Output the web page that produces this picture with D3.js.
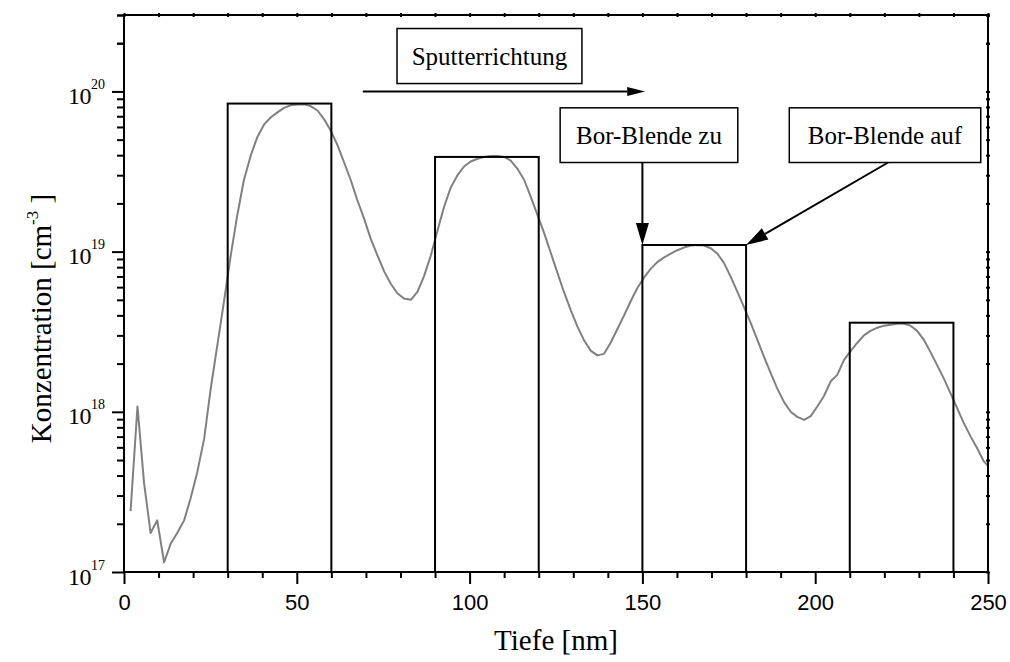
<!DOCTYPE html>
<html>
<head>
<meta charset="utf-8">
<script src="https://cdn.jsdelivr.net/npm/d3@7"></script>
<style>
  html, body { margin: 0; padding: 0; background: #fff; }
  svg { display: block; }
</style>
</head>
<body>
<svg id="chart" width="1010" height="662"></svg>
<script>
// Boron depth profile (SIMS) through four delta-doped layers
const depth = [1.9, 3.9, 5.8, 7.7, 9.6, 11.6, 13.5, 15.4, 17.4, 19.3, 21.2, 23.2, 25.1, 27.0, 29.0,
  30.9, 32.8, 34.7, 36.7, 38.6, 40.5, 42.5, 44.4, 46.3, 48.2, 50.2, 52.1, 54.0, 56.0, 57.9,
  59.8, 61.8, 63.7, 65.6, 67.5, 69.5, 71.4, 73.3, 75.3, 77.2, 79.1, 81.0, 83.0, 84.9, 86.8,
  88.8, 90.7, 92.6, 94.5, 96.5, 98.4, 100.3, 102.3, 104.2, 106.1, 108.1, 110.0, 111.9, 113.8,
  115.8, 117.7, 119.6, 121.6, 123.5, 125.4, 127.3, 129.3, 131.2, 133.1, 135.1, 137.0, 138.9,
  140.8, 142.8, 144.7, 146.6, 148.5, 150.5, 152.4, 154.3, 156.3, 158.2, 160.1, 162.0, 164.0,
  165.9, 167.8, 169.8, 171.7, 173.6, 175.5, 177.5, 179.4, 181.3, 183.3, 185.2, 187.1, 189.0,
  191.0, 192.9, 194.8, 196.8, 198.7, 200.6, 202.5, 204.5, 206.4, 208.3, 210.3, 212.2, 214.1,
  216.0, 218.0, 219.9, 221.8, 223.8, 225.7, 227.6, 229.5, 231.5, 233.4, 235.3, 237.3, 239.2,
  241.1, 243.0, 245.0, 246.9, 248.8, 250.0];
const concentration = [2.4e17, 1.08e18, 3.6e17, 1.75e17, 2.1e17, 1.15e17, 1.5e17, 1.75e17, 2.1e17, 2.9e17, 4.2e17, 6.8e17, 1.4e18, 2.6e18, 5.0e18,
  9.5e18, 1.7e19, 2.8e19, 4.0e19, 5.2e19, 6.2e19, 6.9e19, 7.4e19, 7.9e19, 8.2e19, 8.3e19, 8.3e19, 8.1e19, 7.6e19, 6.7e19,
  5.7e19, 4.6e19, 3.6e19, 2.8e19, 2.1e19, 1.6e19, 1.2e19, 9.5e18, 7.5e18, 6.3e18, 5.5e18, 5.1e18, 5.0e18, 5.6e18, 7.0e18,
  9.5e18, 1.35e19, 1.9e19, 2.5e19, 3.0e19, 3.4e19, 3.65e19, 3.8e19, 3.9e19, 3.95e19, 3.95e19, 3.9e19, 3.7e19, 3.3e19,
  2.8e19, 2.2e19, 1.7e19, 1.3e19, 9.8e18, 7.4e18, 5.6e18, 4.3e18, 3.4e18, 2.8e18, 2.4e18, 2.25e18, 2.3e18,
  2.7e18, 3.3e18, 4.0e18, 4.9e18, 5.9e18, 6.9e18, 7.8e18, 8.6e18, 9.2e18, 9.7e18, 1.02e19, 1.06e19, 1.09e19,
  1.1e19, 1.09e19, 1.05e19, 9.7e18, 8.5e18, 7.0e18, 5.6e18, 4.5e18, 3.6e18, 2.8e18, 2.2e18, 1.75e18, 1.4e18,
  1.15e18, 1.0e18, 9.3e17, 8.9e17, 9.4e17, 1.08e18, 1.25e18, 1.55e18, 1.7e18, 2.1e18, 2.4e18, 2.7e18, 3.0e18,
  3.2e18, 3.35e18, 3.45e18, 3.5e18, 3.55e18, 3.55e18, 3.45e18, 3.2e18, 2.8e18, 2.35e18, 1.95e18, 1.6e18, 1.3e18,
  1.05e18, 8.5e17, 7.0e17, 5.9e17, 4.9e17, 4.6e17];

// Nominal doping layers: start, end [nm] and target concentration
const layerStart = [30, 90, 150, 210];
const layerEnd = [60, 120, 180, 240];
const layerLevel = [8.4e19, 3.9e19, 1.1e19, 3.6e18];

// Axis ticks
const xMajorTicks = [0, 50, 100, 150, 200, 250];
const xAllTicks = [0, 10, 20, 30, 40, 50, 60, 70, 80, 90, 100, 110, 120, 130, 140, 150, 160, 170, 180, 190, 200, 210, 220, 230, 240, 250];
const yDecades = [1e17, 1e18, 1e19, 1e20];
const yExponents = ["17", "18", "19", "20"];
const yMantissas = [1, 2, 3, 4, 5, 6, 7, 8, 9];

// Annotation texts
const sputterLabel = "Sputterrichtung";
const closeLabel = "Bor-Blende zu";
const openLabel = "Bor-Blende auf";

const svg = d3.select("#chart");
const plotLeft = 124, plotRight = 988, plotTop = 15, plotBottom = 572;

const x = d3.scaleLinear().domain([0, 250]).range([plotLeft, plotRight]);
const y = d3.scaleLog().domain([1e17, 3e20]).range([plotBottom, plotTop]);

const yAllTicks = [];
yDecades.forEach(d => yMantissas.forEach(m => { if (d * m <= 3e20 + 1) yAllTicks.push(d * m); }));
[2e20, 3e20].forEach(v => yAllTicks.push(v));

const serif = "'Liberation Serif', 'Times New Roman', serif";
const sans = "'Liberation Sans', Arial, sans-serif";

// Measured profile
const line = d3.line().x((d, i) => x(depth[i])).y(d => y(d));
svg.append("path")
  .datum(concentration)
  .attr("d", line)
  .attr("fill", "none")
  .attr("stroke", "#808080")
  .attr("stroke-width", 2)
  .attr("stroke-linejoin", "round");

// Nominal layer rectangles
svg.append("g").selectAll("rect")
  .data(layerLevel)
  .join("rect")
  .attr("x", (d, i) => x(layerStart[i]))
  .attr("width", (d, i) => x(layerEnd[i]) - x(layerStart[i]))
  .attr("y", d => y(d))
  .attr("height", d => y(1e17) - y(d))
  .attr("fill", "none")
  .attr("stroke", "#000")
  .attr("stroke-width", 2);

// Bottom axis
const isXMajor = v => xMajorTicks.includes(v);
const gx = svg.append("g").attr("transform", `translate(0,${plotBottom})`)
  .call(d3.axisBottom(x).tickValues(xAllTicks).tickSize(12).tickFormat(""));
gx.selectAll(".tick line").attr("y2", d => isXMajor(d) ? 12 : 6).attr("stroke-width", 2);
gx.select(".domain").remove();
gx.selectAll(".tick").filter(d => isXMajor(d)).append("text")
  .attr("y", 38).attr("fill", "#000")
  .attr("font-family", sans).attr("font-size", 22).attr("text-anchor", "middle")
  .text(d => d);

// Top axis (tiny ticks across the frame line)
const gxt = svg.append("g").attr("transform", `translate(0,${plotTop})`)
  .call(d3.axisTop(x).tickValues(xAllTicks).tickSize(0).tickFormat(""));
gxt.select(".domain").remove();
gxt.selectAll(".tick line").attr("y1", -2).attr("y2", 2).attr("stroke-width", 2);

// Left axis
const isDecade = v => yDecades.some(d => Math.abs(d - v) / d < 1e-6);
const gy = svg.append("g").attr("transform", `translate(${plotLeft},0)`)
  .call(d3.axisLeft(y).tickValues(yAllTicks).tickSize(12).tickFormat(""));
gy.select(".domain").remove();
gy.selectAll(".tick line").attr("x2", d => isDecade(d) ? -12 : -7).attr("stroke-width", 2);
const yl = gy.selectAll(".tick").filter(d => isDecade(d)).append("text")
  .attr("x", -19).attr("y", 12).attr("fill", "#000")
  .attr("font-family", serif).attr("text-anchor", "end");
yl.append("tspan").attr("font-size", 24).attr("letter-spacing", -0.5).text("10");
yl.append("tspan").attr("font-size", 14).attr("dy", -15)
  .text(d => yExponents[yDecades.findIndex(v => Math.abs(v - d) / v < 1e-6)]);

// Right axis (tiny ticks across the frame line)
const gyr = svg.append("g").attr("transform", `translate(${plotRight},0)`)
  .call(d3.axisRight(y).tickValues(yAllTicks).tickSize(0).tickFormat(""));
gyr.select(".domain").remove();
gyr.selectAll(".tick line").attr("x1", -2).attr("x2", 2).attr("stroke-width", 2);

// Frame
svg.append("rect")
  .attr("x", plotLeft).attr("y", plotTop)
  .attr("width", plotRight - plotLeft).attr("height", plotBottom - plotTop)
  .attr("fill", "none").attr("stroke", "#000").attr("stroke-width", 2);

// Axis titles
svg.append("text")
  .attr("x", (plotLeft + plotRight) / 2).attr("y", 650)
  .attr("text-anchor", "middle").attr("font-family", serif).attr("font-size", 29)
  .text("Tiefe [nm]");
const yt = svg.append("text")
  .attr("transform", `translate(51,${(plotTop + plotBottom) / 2 + 25}) rotate(-90)`)
  .attr("text-anchor", "middle").attr("font-family", serif).attr("font-size", 29);
yt.append("tspan").text("Konzentration [cm");
yt.append("tspan").attr("font-size", 17).attr("dy", -13).text("-3");
yt.append("tspan").attr("dy", 13).text(" ]");

// Annotation helpers
function labelBox(x0, x1, v0, v1, txt) {
  const g = svg.append("g");
  g.append("rect")
    .attr("x", x(x0)).attr("y", y(v0))
    .attr("width", x(x1) - x(x0)).attr("height", y(v1) - y(v0))
    .attr("fill", "#fff").attr("stroke", "#000").attr("stroke-width", 1.5);
  g.append("text")
    .attr("x", (x(x0) + x(x1)) / 2).attr("y", (y(v0) + y(v1)) / 2 + 9)
    .attr("text-anchor", "middle").attr("font-family", serif).attr("font-size", 25)
    .text(txt);
}
function arrow(x0, v0, x1, v1, headLen, headHalf) {
  const px0 = x(x0), py0 = y(v0), px1 = x(x1), py1 = y(v1);
  const ang = Math.atan2(py1 - py0, px1 - px0);
  const bx = px1 - headLen * Math.cos(ang), by = py1 - headLen * Math.sin(ang);
  svg.append("line")
    .attr("x1", px0).attr("y1", py0).attr("x2", bx).attr("y2", by)
    .attr("stroke", "#000").attr("stroke-width", 2);
  const nx = -Math.sin(ang) * headHalf, ny = Math.cos(ang) * headHalf;
  svg.append("path")
    .attr("d", `M${px1},${py1}L${bx + nx},${by + ny}L${bx - nx},${by - ny}Z`)
    .attr("fill", "#000");
}

// Sputter direction
labelBox(79.0, 132.5, 2.47e20, 1.12e20, sputterLabel);
arrow(69.1, 1e20, 150.8, 1e20, 18, 4.5);

// Shutter close/open markers
labelBox(126.2, 177.6, 7.9e19, 3.6e19, closeLabel);
labelBox(192.5, 247.9, 7.9e19, 3.6e19, openLabel);
arrow(150, 3.6e19, layerStart[2], layerLevel[2], 22, 6.5);
arrow(221.1, 3.6e19, layerEnd[2], layerLevel[2], 22, 6.5);
</script>
</body>
</html>
